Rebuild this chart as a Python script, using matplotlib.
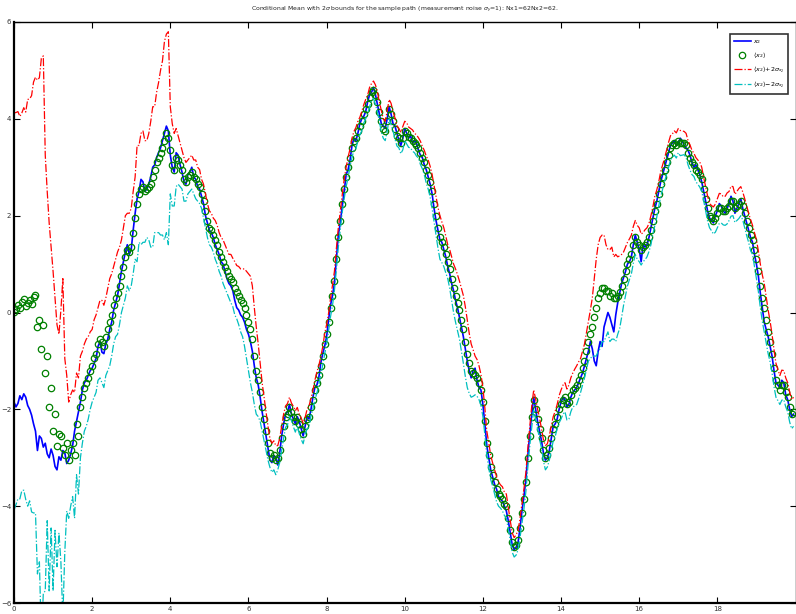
import numpy as np
import matplotlib
matplotlib.use("Agg")
import matplotlib.pyplot as plt

# sample times of the path (dt = 0.05)
t = np.arange(400) * 0.05

# true state x2 along the sample path (one row per 0.5 time units)
x2 = [
    -1.85, -1.95, -1.88, -1.72, -1.80, -1.68, -1.75, -1.92, -2.00, -2.12,
    -2.30, -2.45, -2.85, -2.55, -2.60, -2.78, -2.70, -2.92, -3.00, -2.82,
    -2.95, -3.18, -3.25, -2.98, -3.05, -2.85, -2.90, -3.12, -3.05, -2.92,
    -2.75, -2.45, -2.25, -2.05, -1.85, -1.60, -1.45, -1.40, -1.30, -1.20,
    -1.15, -1.05, -0.95, -0.70, -0.60, -0.82, -0.85, -0.65, -0.55, -0.35,
    -0.20, 0.05, 0.20, 0.35, 0.60, 0.85, 1.05, 1.25, 1.40, 1.20,
    1.30, 1.70, 2.05, 2.35, 2.50, 2.75, 2.70, 2.50, 2.55, 2.65,
    2.80, 3.00, 3.05, 3.20, 3.30, 3.40, 3.55, 3.70, 3.85, 3.75,
    3.25, 3.00, 2.90, 3.30, 3.25, 3.05, 2.90, 2.70, 2.65, 2.85,
    2.90, 3.00, 2.80, 2.75, 2.60, 2.55, 2.40, 2.25, 2.00, 1.85,
    1.70, 1.65, 1.55, 1.40, 1.30, 1.20, 1.05, 1.00, 0.85, 0.70,
    0.60, 0.55, 0.45, 0.25, 0.10, 0.05, -0.05, -0.10, -0.20, -0.35,
    -0.45, -0.60, -0.80, -1.10, -1.35, -1.50, -1.75, -2.05, -2.30, -2.55,
    -2.80, -3.05, -3.10, -2.95, -3.00, -3.15, -2.90, -2.55, -2.30, -2.10,
    -2.05, -1.90, -2.10, -2.20, -2.30, -2.15, -2.25, -2.40, -2.55, -2.35,
    -2.15, -2.20, -2.00, -1.75, -1.55, -1.50, -1.35, -1.05, -0.85, -0.70,
    -0.50, -0.15, 0.15, 0.35, 0.60, 1.10, 1.60, 1.85, 2.20, 2.50,
    2.85, 2.95, 3.15, 3.45, 3.60, 3.55, 3.70, 3.90, 4.00, 4.05,
    4.15, 4.35, 4.50, 4.55, 4.65, 4.50, 4.30, 4.10, 3.90, 3.85,
    3.80, 4.00, 4.25, 4.10, 3.90, 3.85, 3.70, 3.55, 3.45, 3.60,
    3.80, 3.70, 3.60, 3.65, 3.50, 3.55, 3.50, 3.35, 3.25, 3.20,
    3.05, 2.95, 2.80, 2.65, 2.45, 2.15, 1.90, 1.70, 1.50, 1.45,
    1.30, 1.15, 0.95, 0.80, 0.60, 0.45, 0.25, 0.10, -0.10, -0.30,
    -0.50, -0.75, -1.00, -1.20, -1.35, -1.20, -1.15, -1.40, -1.55, -1.60,
    -1.90, -2.30, -2.75, -3.00, -3.25, -3.40, -3.55, -3.65, -3.80, -3.85,
    -3.90, -4.00, -4.10, -4.30, -4.55, -4.80, -4.90, -4.85, -4.75, -4.45,
    -4.10, -3.80, -3.45, -2.95, -2.50, -2.10, -1.75, -2.00, -2.25, -2.45,
    -2.65, -2.90, -3.05, -3.00, -2.85, -2.60, -2.35, -2.30, -2.20, -2.00,
    -1.85, -1.75, -1.80, -1.95, -1.90, -1.75, -1.65, -1.60, -1.55, -1.45,
    -1.35, -1.25, -1.10, -0.95, -0.80, -0.60, -0.75, -1.00, -1.10, -0.80,
    -0.60, -0.70, -0.30, -0.15, 0.00, -0.10, -0.25, -0.40, -0.05, 0.20,
    0.40, 0.60, 0.72, 0.85, 1.00, 1.05, 1.15, 1.40, 1.60, 1.45,
    1.30, 1.05, 1.40, 1.35, 1.40, 1.55, 1.75, 1.95, 2.15, 2.30,
    2.50, 2.70, 2.85, 3.00, 3.15, 3.30, 3.45, 3.50, 3.55, 3.45,
    3.50, 3.60, 3.55, 3.45, 3.40, 3.35, 3.25, 3.10, 3.00, 3.05,
    2.95, 2.85, 2.70, 2.50, 2.30, 2.10, 1.95, 1.90, 1.85, 2.00,
    2.10, 2.25, 2.20, 2.10, 2.05, 2.15, 2.25, 2.40, 2.30, 2.05,
    2.15, 2.25, 2.35, 2.15, 2.00, 1.85, 1.70, 1.55, 1.45, 1.20,
    1.00, 0.75, 0.40, 0.10, -0.20, -0.35, -0.50, -0.70, -0.90, -1.20,
    -1.45, -1.50, -1.55, -1.40, -1.45, -1.70, -1.80, -2.00, -2.15, -2.10,
]

# conditional mean <x2>
x2_mean = [
    0.02, 0.08, 0.15, 0.10, 0.22, 0.28, 0.14, 0.20, 0.26, 0.18,
    0.31, 0.36, -0.30, -0.15, -0.75, -0.25, -1.25, -0.90, -1.95, -1.55,
    -2.45, -2.10, -2.75, -2.50, -2.55, -2.80, -2.95, -2.70, -3.05, -2.85,
    -2.70, -2.95, -2.30, -2.55, -1.95, -1.75, -1.55, -1.45, -1.35, -1.20,
    -1.10, -0.95, -0.85, -0.65, -0.55, -0.60, -0.70, -0.50, -0.35, -0.20,
    -0.05, 0.15, 0.30, 0.40, 0.55, 0.75, 0.95, 1.15, 1.30, 1.25,
    1.35, 1.65, 1.95, 2.25, 2.45, 2.55, 2.60, 2.50, 2.55, 2.60,
    2.65, 2.80, 2.95, 3.10, 3.20, 3.30, 3.40, 3.55, 3.70, 3.60,
    3.35, 3.05, 2.95, 3.20, 3.15, 3.05, 2.95, 2.75, 2.70, 2.80,
    2.85, 2.90, 2.80, 2.75, 2.65, 2.60, 2.45, 2.30, 2.10, 1.90,
    1.75, 1.70, 1.60, 1.50, 1.40, 1.25, 1.15, 1.05, 0.95, 0.85,
    0.75, 0.70, 0.62, 0.50, 0.42, 0.35, 0.25, 0.20, 0.10, -0.05,
    -0.20, -0.35, -0.55, -0.90, -1.20, -1.40, -1.65, -1.95, -2.20, -2.45,
    -2.70, -2.90, -3.00, -2.95, -3.05, -3.00, -2.85, -2.60, -2.35, -2.15,
    -2.10, -1.95, -2.05, -2.15, -2.25, -2.15, -2.30, -2.40, -2.50, -2.35,
    -2.20, -2.15, -1.95, -1.80, -1.60, -1.45, -1.30, -1.10, -0.90, -0.65,
    -0.45, -0.20, 0.10, 0.35, 0.65, 1.10, 1.55, 1.90, 2.25, 2.55,
    2.80, 3.00, 3.20, 3.40, 3.55, 3.60, 3.75, 3.85, 3.95, 4.10,
    4.20, 4.30, 4.45, 4.55, 4.60, 4.50, 4.35, 4.15, 3.95, 3.80,
    3.75, 3.95, 4.20, 4.10, 3.95, 3.80, 3.65, 3.60, 3.50, 3.60,
    3.75, 3.70, 3.62, 3.60, 3.55, 3.50, 3.45, 3.40, 3.30, 3.20,
    3.10, 2.95, 2.85, 2.70, 2.50, 2.25, 2.00, 1.75, 1.55, 1.45,
    1.35, 1.20, 1.05, 0.90, 0.70, 0.50, 0.35, 0.20, 0.05, -0.15,
    -0.35, -0.60, -0.85, -1.05, -1.20, -1.25, -1.30, -1.35, -1.45, -1.60,
    -1.85, -2.25, -2.70, -2.95, -3.20, -3.35, -3.50, -3.65, -3.75, -3.80,
    -3.85, -3.95, -4.00, -4.25, -4.50, -4.75, -4.85, -4.80, -4.70, -4.45,
    -4.15, -3.85, -3.50, -3.00, -2.55, -2.15, -1.80, -2.00, -2.20, -2.40,
    -2.60, -2.85, -3.00, -2.95, -2.80, -2.60, -2.40, -2.30, -2.15, -2.00,
    -1.90, -1.80, -1.75, -1.90, -1.85, -1.70, -1.60, -1.55, -1.50, -1.40,
    -1.30, -1.15, -1.00, -0.80, -0.60, -0.45, -0.30, -0.10, 0.10, 0.30,
    0.40, 0.50, 0.50, 0.45, 0.45, 0.35, 0.40, 0.30, 0.30, 0.35,
    0.42, 0.55, 0.70, 0.85, 1.00, 1.10, 1.20, 1.40, 1.55, 1.45,
    1.40, 1.30, 1.35, 1.40, 1.45, 1.55, 1.70, 1.90, 2.10, 2.25,
    2.45, 2.65, 2.80, 2.95, 3.10, 3.25, 3.40, 3.45, 3.50, 3.45,
    3.55, 3.50, 3.50, 3.50, 3.45, 3.30, 3.20, 3.10, 3.05, 2.95,
    2.90, 2.85, 2.75, 2.55, 2.35, 2.15, 2.00, 1.95, 1.90, 1.95,
    2.05, 2.15, 2.15, 2.10, 2.10, 2.15, 2.20, 2.30, 2.30, 2.15,
    2.20, 2.25, 2.30, 2.20, 2.05, 1.90, 1.75, 1.60, 1.50, 1.30,
    1.10, 0.85, 0.55, 0.30, 0.10, -0.15, -0.40, -0.60, -0.85, -1.15,
    -1.40, -1.50, -1.60, -1.50, -1.50, -1.65, -1.75, -1.95, -2.10, -2.05,
]

# two standard deviations of the conditional distribution
two_sigma = [
    4.10, 4.05, 4.00, 3.95, 3.90, 3.95, 4.00, 4.20, 4.15, 4.30,
    4.45, 4.50, 5.10, 5.00, 6.00, 5.55, 4.50, 3.40, 3.80, 2.90,
    3.30, 2.40, 2.50, 2.05, 2.60, 3.50, 2.00, 1.40, 1.20, 1.15,
    1.10, 1.30, 1.05, 1.20, 1.05, 0.95, 0.90, 0.90, 0.85, 0.80,
    0.75, 0.80, 0.80, 0.75, 0.80, 0.85, 0.85, 0.80, 0.85, 0.90,
    0.85, 0.80, 0.80, 0.85, 0.80, 0.75, 0.80, 0.85, 0.75, 0.80,
    0.80, 0.85, 0.85, 1.20, 1.00, 1.15, 1.15, 1.05, 1.00, 1.10,
    1.30, 1.45, 1.30, 1.45, 1.55, 1.70, 1.80, 2.05, 2.05, 2.20,
    0.90, 0.85, 0.75, 0.60, 0.50, 0.45, 0.40, 0.45, 0.40, 0.35,
    0.35, 0.35, 0.35, 0.40, 0.35, 0.35, 0.30, 0.35, 0.35, 0.35,
    0.35, 0.35, 0.35, 0.40, 0.40, 0.40, 0.40, 0.45, 0.45, 0.45,
    0.45, 0.50, 0.50, 0.55, 0.55, 0.60, 0.65, 0.70, 0.80, 0.90,
    1.00, 1.10, 1.10, 1.00, 0.90, 0.75, 0.60, 0.50, 0.45, 0.40,
    0.35, 0.30, 0.30, 0.30, 0.30, 0.25, 0.25, 0.25, 0.25, 0.22,
    0.22, 0.20, 0.18, 0.21, 0.22, 0.19, 0.20, 0.22, 0.21, 0.18,
    0.20, 0.22, 0.18, 0.19, 0.20, 0.22, 0.20, 0.18, 0.19, 0.21,
    0.20, 0.18, 0.19, 0.21, 0.20, 0.22, 0.20, 0.19, 0.18, 0.20,
    0.20, 0.21, 0.18, 0.20, 0.19, 0.22, 0.20, 0.18, 0.20, 0.19,
    0.20, 0.19, 0.20, 0.18, 0.18, 0.20, 0.21, 0.20, 0.22, 0.20,
    0.20, 0.21, 0.20, 0.22, 0.20, 0.22, 0.21, 0.20, 0.22, 0.24,
    0.20, 0.22, 0.21, 0.20, 0.22, 0.20, 0.22, 0.21, 0.24, 0.23,
    0.25, 0.28, 0.30, 0.32, 0.35, 0.38, 0.40, 0.42, 0.45, 0.42,
    0.40, 0.38, 0.35, 0.40, 0.45, 0.50, 0.55, 0.58, 0.60, 0.65,
    0.70, 0.72, 0.70, 0.62, 0.55, 0.48, 0.40, 0.38, 0.35, 0.32,
    0.30, 0.28, 0.25, 0.26, 0.25, 0.24, 0.25, 0.26, 0.25, 0.24,
    0.25, 0.24, 0.25, 0.22, 0.20, 0.20, 0.20, 0.21, 0.20, 0.20,
    0.20, 0.21, 0.20, 0.20, 0.20, 0.22, 0.20, 0.21, 0.20, 0.22,
    0.20, 0.22, 0.25, 0.24, 0.25, 0.26, 0.25, 0.26, 0.25, 0.28,
    0.30, 0.30, 0.30, 0.32, 0.35, 0.35, 0.35, 0.38, 0.40, 0.38,
    0.35, 0.35, 0.35, 0.38, 0.40, 0.50, 0.60, 0.80, 1.00, 1.10,
    1.15, 1.10, 1.10, 0.95, 0.85, 0.95, 0.95, 0.85, 0.90, 0.80,
    0.75, 0.65, 0.55, 0.50, 0.45, 0.42, 0.40, 0.38, 0.35, 0.35,
    0.35, 0.32, 0.30, 0.31, 0.30, 0.29, 0.30, 0.28, 0.30, 0.28,
    0.25, 0.26, 0.25, 0.24, 0.25, 0.26, 0.25, 0.24, 0.25, 0.26,
    0.25, 0.26, 0.25, 0.24, 0.25, 0.25, 0.26, 0.25, 0.24, 0.25,
    0.25, 0.26, 0.25, 0.24, 0.25, 0.26, 0.25, 0.26, 0.28, 0.29,
    0.30, 0.31, 0.30, 0.29, 0.30, 0.32, 0.30, 0.31, 0.30, 0.29,
    0.30, 0.31, 0.30, 0.29, 0.30, 0.31, 0.30, 0.32, 0.30, 0.35,
    0.40, 0.42, 0.45, 0.48, 0.50, 0.48, 0.45, 0.42, 0.40, 0.38,
    0.35, 0.32, 0.30, 0.31, 0.30, 0.30, 0.30, 0.31, 0.30, 0.30,
]

x_ticks = [0, 2, 4, 6, 8, 10, 12, 14, 16, 18]
y_ticks = [-6, -4, -2, 0, 2, 4, 6]

x2 = np.array(x2)
x2_mean = np.array(x2_mean)
two_sigma = np.array(two_sigma)
upper = x2_mean + two_sigma
lower = x2_mean - two_sigma

W, H = 796, 614
fig = plt.figure(figsize=(W / 100, H / 100), dpi=100)
ax = fig.add_axes([14 / W, (H - 603) / H, 781.5 / W, 581 / H])

ax.plot(t, x2, '-', color=(0, 0, 1), lw=1.2, label=r'$x_2$')
ax.plot(t, x2_mean, 'o', mfc='none', mec=(0, 0.5, 0), mew=0.9, ms=4.6,
        label=r'$\langle x_2\rangle$')
ax.plot(t, upper, '-.', color=(1, 0, 0), lw=0.9,
        label=r'$\langle x_2\rangle$+2$\sigma_{x_2}$')
ax.plot(t, lower, '-.', color=(0, 0.75, 0.75), lw=0.9,
        label=r'$\langle x_2\rangle$$-$2$\sigma_{x_2}$')

ax.set_xlim(0, 20)
ax.set_ylim(-6, 6)
ax.set_xticks(x_ticks)
ax.set_yticks(y_ticks)
ax.tick_params(direction='in', length=4, width=0.8, labelsize=5,
               labelcolor='#333333', top=True, right=True, pad=2)
for side in ['left', 'bottom']:
    ax.spines[side].set_linewidth(1.6)
for side in ['top', 'right']:
    ax.spines[side].set_linewidth(1.0)

ax.set_title(r'Conditional Mean with 2$\sigma$ bounds for the sample path '
             r'(measurement noise $\sigma_y$=1): Nx1=62Nx2=62.',
             fontsize=4.4, pad=8, color='#222222')

leg = ax.legend(loc='upper right', bbox_to_anchor=(0.995, 0.985), fontsize=4.6,
                frameon=True, fancybox=False, edgecolor='black',
                handlelength=2.6, borderpad=0.6, labelspacing=0.7,
                handletextpad=0.4)
leg.get_frame().set_linewidth(1.2)

fig.savefig('out.png', dpi=100)
